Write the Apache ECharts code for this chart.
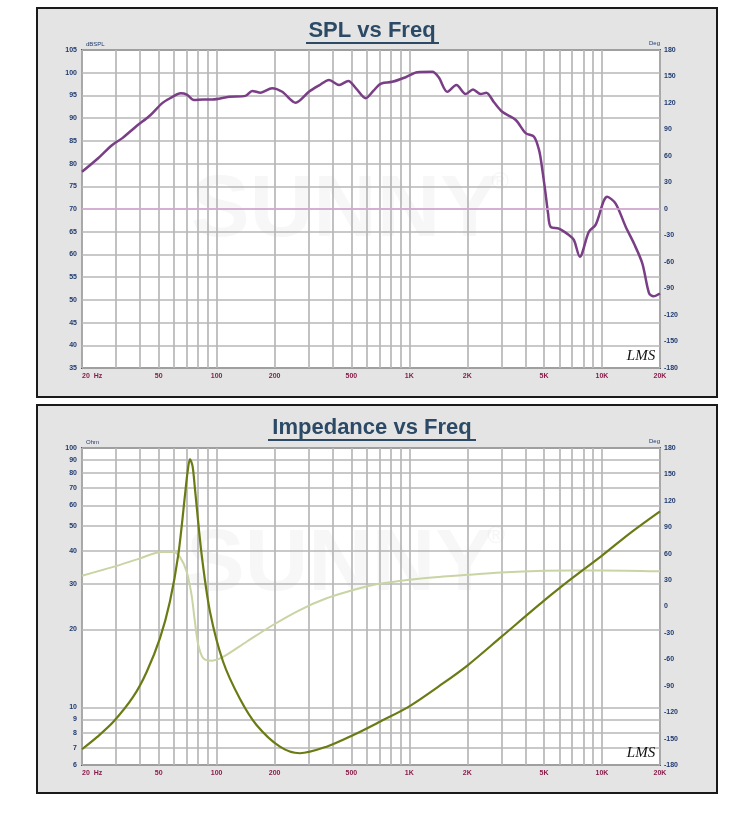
<!DOCTYPE html>
<html>
<head>
<meta charset="utf-8">
<title>SPL / Impedance vs Freq</title>
<script src="https://cdn.jsdelivr.net/npm/echarts@6/dist/echarts.min.js"></script>
<style>
  html, body { margin: 0; padding: 0; background: #fff; }
  #chart { width: 750px; height: 825px; }
</style>
</head>
<body>
<div id="chart"></div>
<script>
// frequency grid + labels (Hz)
const freqGrid = [20, 30, 40, 50, 60, 70, 80, 90, 100, 200, 300, 400, 500, 600, 700, 800, 900,
  1000, 2000, 3000, 4000, 5000, 6000, 7000, 8000, 9000, 10000, 20000];
const freqLabels = [20, 50, 100, 200, 500, 1000, 2000, 5000, 10000, 20000];
const ohmTicks = [6, 7, 8, 9, 10, 20, 30, 40, 50, 60, 70, 80, 90, 100];

// SPL response
const splFreq = [20, 24, 28.7, 32.4, 38, 45.4, 52.2, 58, 65, 70, 76.3, 85, 95, 116, 141, 153, 169, 194,
  219, 257, 301, 340, 383, 432, 482, 530, 593, 650, 695, 723, 815, 957, 1100, 1316, 1420, 1575, 1755,
  1960, 2140, 2345, 2507, 2750, 3035, 3565, 4016, 4437, 4710, 4850, 5095, 5250, 5408, 5970, 6730, 7144,
  7675, 8545, 9260, 10640, 11770, 13270, 14650, 16200, 17540, 18500, 20000];
const splDb = [78.2, 81, 84.1, 85.6, 88.1, 90.7, 93.3, 94.5, 95.5, 95.2, 94.0, 94.1, 94.1, 94.7, 94.9, 96.0, 95.6, 96.6,
  95.8, 93.4, 95.8, 97.2, 98.4, 97.3, 98.2, 96.5, 94.4, 96.0, 97.3, 97.7, 98.0, 99.0, 100.1, 100.2, 99.0, 95.8, 97.3,
  95.3, 96.3, 95.3, 95.6, 93.5, 91.4, 89.6, 86.7, 85.9, 83.0, 80.0, 73.4, 69.0, 66.1, 65.7, 64.3, 63.2,
  59.5, 65.0, 66.5, 72.7, 71.2, 66.1, 62.4, 58.0, 51.5, 50.8, 51.4];

// impedance magnitude
const impFreq = [20, 24, 29.1, 36.9, 43.3, 50.8, 57.2, 63.2, 68.5, 70.5, 72.7, 75, 77.1, 83.6, 92.3, 108, 132, 161,
  213, 270, 372, 512, 703, 1000, 1500, 2000, 3000, 5000, 7000, 10000, 14000, 20000];
const impOhm = [6.9, 7.7, 8.8, 11.0, 13.7, 18.5, 25.6, 38.7, 65.9, 80, 90.7, 85, 69.9, 38.7, 23.4, 15.0, 10.8, 8.56,
  7.06, 6.66, 7.06, 7.83, 8.81, 10.1, 12.4, 14.5, 18.7, 25.8, 31.5, 38.5, 47, 57];

// impedance phase
const phaseFreq = [20, 29.1, 40, 51.8, 59.3, 64.3, 69.9, 74.1, 77.1, 80.3, 85.3, 94.7, 108.5, 143, 196, 270,
  372, 512, 673, 1000, 1500, 2000, 3000, 5000, 7000, 10000, 20000];
const phaseDeg = [35, 45, 54.7, 62, 62, 56.6, 39.5, 13, -17.3, -43.7, -58.9, -61.5, -57, -40, -21, -4,
  9.3, 18.7, 25.2, 30.5, 34, 36, 38.5, 40.5, 41, 41, 40];

const lg = Math.log10;
const pair = (xs, ys, fy) => xs.map((f, i) => [lg(f), fy ? fy(ys[i]) : ys[i]]);

const labelFont = { fontFamily: "Liberation Sans", fontWeight: "bold", fontSize: 7 };
const gridLine = { show: true, lineStyle: { color: "#b7b7b7", width: 1.7 } };

function freqName(v) {
  const f = Math.round(Math.pow(10, v));
  if (f === 20) return "20  Hz";
  return f >= 1000 ? f / 1000 + "K" : String(f);
}

function freqAxis(gridIndex) {
  return {
    type: "value",
    gridIndex: gridIndex,
    min: lg(20),
    max: lg(20000),
    axisLine: { show: false },
    axisTick: { show: false, customValues: freqGrid.map(lg) },
    splitLine: gridLine,
    axisLabel: {
      customValues: freqLabels.map(lg),
      formatter: freqName,
      color: "#8a1c4c",
      margin: 5,
      alignMinLabel: "left",
      ...labelFont
    }
  };
}

function degAxis(gridIndex) {
  return {
    type: "value",
    gridIndex: gridIndex,
    position: "right",
    min: -180,
    max: 180,
    interval: 30,
    name: "Deg",
    nameLocation: "end",
    nameGap: 3,
    nameTextStyle: { align: "right", color: "#1f3a6e", fontSize: 6, fontFamily: "Liberation Sans" },
    axisLine: { show: false },
    axisTick: { show: false },
    splitLine: { show: false },
    axisLabel: { color: "#1f3a6e", margin: 4, ...labelFont }
  };
}

const chart = echarts.init(document.getElementById("chart"));

const option = {
  animation: false,
  backgroundColor: "#fff",
  graphic: [
    { type: "rect", z: -10, shape: { x: 37, y: 8, width: 680, height: 389 },
      style: { fill: "#e4e4e4", stroke: "#1a1a1a", lineWidth: 2 } },
    { type: "rect", z: -10, shape: { x: 37, y: 405, width: 680, height: 388 },
      style: { fill: "#e4e4e4", stroke: "#1a1a1a", lineWidth: 2 } },
    { type: "text", z: 5, x: 372, y: 31,
      style: { text: "SPL vs Freq", fill: "#2c4a66", font: "bold 22px 'Liberation Sans'",
        textAlign: "center", textVerticalAlign: "middle" } },
    { type: "line", z: 5, shape: { x1: 306, y1: 43, x2: 439, y2: 43 },
      style: { stroke: "#2c4a66", lineWidth: 2 } },
    { type: "text", z: 5, x: 372, y: 428,
      style: { text: "Impedance vs Freq", fill: "#2c4a66", font: "bold 22px 'Liberation Sans'",
        textAlign: "center", textVerticalAlign: "middle" } },
    { type: "line", z: 5, shape: { x1: 268, y1: 440, x2: 476, y2: 440 },
      style: { stroke: "#2c4a66", lineWidth: 2 } },
    // watermarks
    { type: "text", z: 1, x: 345, y: 212,
      style: { text: "SUNNY", fill: "rgba(190,175,175,0.10)", font: "bold 88px 'Liberation Sans'",
        textAlign: "center", textVerticalAlign: "middle" } },
    { type: "text", z: 1, x: 500, y: 182,
      style: { text: "®", fill: "rgba(190,175,175,0.12)", font: "24px 'Liberation Sans'",
        textAlign: "center", textVerticalAlign: "middle" } },
    { type: "text", z: 1, x: 340, y: 566,
      style: { text: "SUNNY", fill: "rgba(190,175,175,0.10)", font: "bold 88px 'Liberation Sans'",
        textAlign: "center", textVerticalAlign: "middle" } },
    { type: "text", z: 1, x: 496, y: 536,
      style: { text: "®", fill: "rgba(190,175,175,0.12)", font: "24px 'Liberation Sans'",
        textAlign: "center", textVerticalAlign: "middle" } },
    // LMS marks
    { type: "text", z: 10, x: 641, y: 356,
      style: { text: "LMS", fill: "#111", font: "italic 15px 'Liberation Serif'",
        textAlign: "center", textVerticalAlign: "middle" } },
    { type: "text", z: 10, x: 641, y: 753,
      style: { text: "LMS", fill: "#111", font: "italic 15px 'Liberation Serif'",
        textAlign: "center", textVerticalAlign: "middle" } }
  ],
  grid: [
    { left: 82, right: 90, top: 50, height: 318, show: true, backgroundColor: "#fff",
      borderColor: "#5a5a5a", borderWidth: 2 },
    { left: 82, right: 90, top: 448, height: 317, show: true, backgroundColor: "#fff",
      borderColor: "#5a5a5a", borderWidth: 2 }
  ],
  xAxis: [freqAxis(0), freqAxis(1)],
  yAxis: [
    {
      type: "value",
      gridIndex: 0,
      min: 35,
      max: 105,
      interval: 5,
      name: "dBSPL",
      nameLocation: "end",
      nameGap: 3,
      nameTextStyle: { align: "left", color: "#1f3a6e", fontSize: 6, fontFamily: "Liberation Sans",
        padding: [0, 0, 0, 4] },
      axisLine: { show: false },
      axisTick: { show: false },
      splitLine: gridLine,
      axisLabel: { color: "#1f3a6e", margin: 5, ...labelFont }
    },
    degAxis(0),
    {
      type: "value",
      gridIndex: 1,
      min: lg(6),
      max: 2,
      name: "Ohm",
      nameLocation: "end",
      nameGap: 3,
      nameTextStyle: { align: "left", color: "#1f3a6e", fontSize: 6, fontFamily: "Liberation Sans",
        padding: [0, 0, 0, 4] },
      axisLine: { show: false },
      axisTick: { show: false, customValues: ohmTicks.map(lg) },
      splitLine: gridLine,
      axisLabel: {
        customValues: ohmTicks.map(lg),
        formatter: v => String(Math.round(Math.pow(10, v))),
        color: "#1f3a6e",
        margin: 5,
        ...labelFont
      }
    },
    degAxis(1)
  ],
  series: [
    {
      name: "SPL",
      type: "line",
      xAxisIndex: 0,
      yAxisIndex: 0,
      data: pair(splFreq, splDb),
      smooth: 0.3,
      showSymbol: false,
      z: 3,
      lineStyle: { color: "#7a3e86", width: 2.5 },
      markLine: {
        silent: true,
        symbol: "none",
        label: { show: false },
        lineStyle: { color: "#d7a8d6", width: 1.5, type: "solid" },
        data: [{ yAxis: 70 }]
      }
    },
    {
      name: "Phase",
      type: "line",
      xAxisIndex: 1,
      yAxisIndex: 3,
      data: pair(phaseFreq, phaseDeg),
      smooth: 0.3,
      showSymbol: false,
      z: 3,
      lineStyle: { color: "#c9d4a4", width: 2 }
    },
    {
      name: "Impedance",
      type: "line",
      xAxisIndex: 1,
      yAxisIndex: 2,
      data: pair(impFreq, impOhm, lg),
      smooth: 0.3,
      showSymbol: false,
      z: 4,
      lineStyle: { color: "#6a7b14", width: 2.2 }
    }
  ]
};

chart.setOption(option);
window.addEventListener("resize", () => {
  chart && chart.resize();
});
</script>
</body>
</html>
